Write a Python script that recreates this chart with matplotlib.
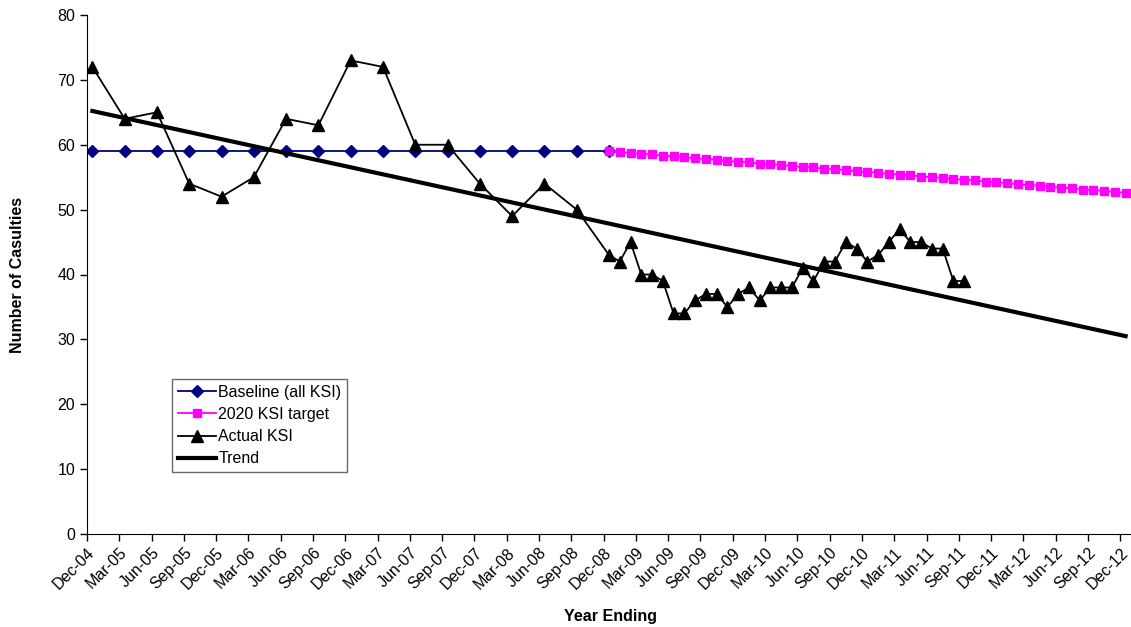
import matplotlib
matplotlib.use('Agg')
import matplotlib.pyplot as plt

plt.rcParams['font.family'] = ['Liberation Sans', 'DejaVu Sans']

# months counted from Dec-04 (0) to Dec-12 (96)
tick_labels = []
for yr in range(4, 13):
    for mon in ['Mar', 'Jun', 'Sep', 'Dec']:
        if (yr == 4 and mon != 'Dec'):
            continue
        tick_labels.append('%s-%02d' % (mon, yr))

baseline_x = [0, 3, 6, 9, 12, 15, 18, 21, 24, 27, 30, 33, 36, 39, 42, 45, 48]
baseline_y = [59] * 17

target_x = list(range(48, 97))
target_y = [59.0, 58.9, 58.7, 58.6, 58.5, 58.3, 58.2, 58.1, 57.9, 57.8,
            57.7, 57.5, 57.4, 57.3, 57.1, 57.0, 56.9, 56.7, 56.6, 56.5,
            56.3, 56.2, 56.1, 55.9, 55.8, 55.7, 55.5, 55.4, 55.3, 55.1,
            55.0, 54.9, 54.7, 54.6, 54.5, 54.3, 54.2, 54.1, 53.9, 53.8,
            53.7, 53.5, 53.4, 53.3, 53.1, 53.0, 52.9, 52.7, 52.6]

actual_x = [0, 3, 6, 9, 12, 15, 18, 21, 24, 27, 30, 33, 36, 39, 42, 45] + list(range(48, 82))
actual_y = [72, 64, 65, 54, 52, 55, 64, 63, 73, 72, 60, 60, 54, 49, 54, 50,
            43, 42, 45, 40, 40, 39, 34, 34, 36, 37, 37, 35, 37, 38, 36, 38, 38,
            38, 41, 39, 42, 42, 45, 44, 42, 43, 45, 47, 45, 45, 44, 44, 39, 39]

trend_x = [0, 96]
trend_y = [65.2, 30.5]

FS = 11.5
W = 1044.0
fig = plt.figure(figsize=(11.31, 6.27), dpi=100)
ax = fig.add_axes([87 / 1131, 1 - 534 / 627, W / 1131, 519 / 627])

ax.plot(baseline_x, baseline_y, color='#000080', lw=1.3, marker='D', ms=6,
        label='Baseline (all KSI)', zorder=3)
ax.plot(target_x, target_y, color='#ff00ff', lw=1.3, marker='s', ms=5.5,
        label='2020 KSI target', zorder=4)
ax.plot(actual_x, actual_y, color='black', lw=1.3, marker='^', ms=8,
        label='Actual KSI', zorder=5)
ax.plot(trend_x, trend_y, color='black', lw=3, label='Trend', zorder=6)

ax.set_xlim(-0.5, 96.5)
ax.set_ylim(0, 80)
ax.set_yticks(range(0, 81, 10))
ticks = [i * 3 - 0.5 for i in range(len(tick_labels))]
ax.set_xticks(ticks)
ax.set_xticklabels(tick_labels, rotation=45, ha='right', rotation_mode='anchor')
ax.tick_params(axis='both', labelsize=FS, direction='out', length=5, width=1)
ax.tick_params(axis='x', pad=3)
ax.spines['top'].set_visible(False)
ax.spines['right'].set_visible(False)

ax.set_ylabel('Number of Casulties', fontsize=FS, fontweight='bold')
ax.yaxis.set_label_coords((25 - 87) / W, 0.5)
ax.set_xlabel('Year Ending', fontsize=FS, fontweight='bold')
ax.xaxis.set_label_coords((611 - 87) / W, (534 - 609) / 519)

leg = ax.legend(loc='lower left', bbox_to_anchor=(85 / W, 62 / 519),
                fontsize=FS, frameon=True, fancybox=False, edgecolor='#444444',
                handlelength=2.4, borderpad=0.35, labelspacing=0.45, handletextpad=0.15,
                borderaxespad=0)
leg.get_frame().set_linewidth(1)

fig.savefig('out.png', dpi=100)
